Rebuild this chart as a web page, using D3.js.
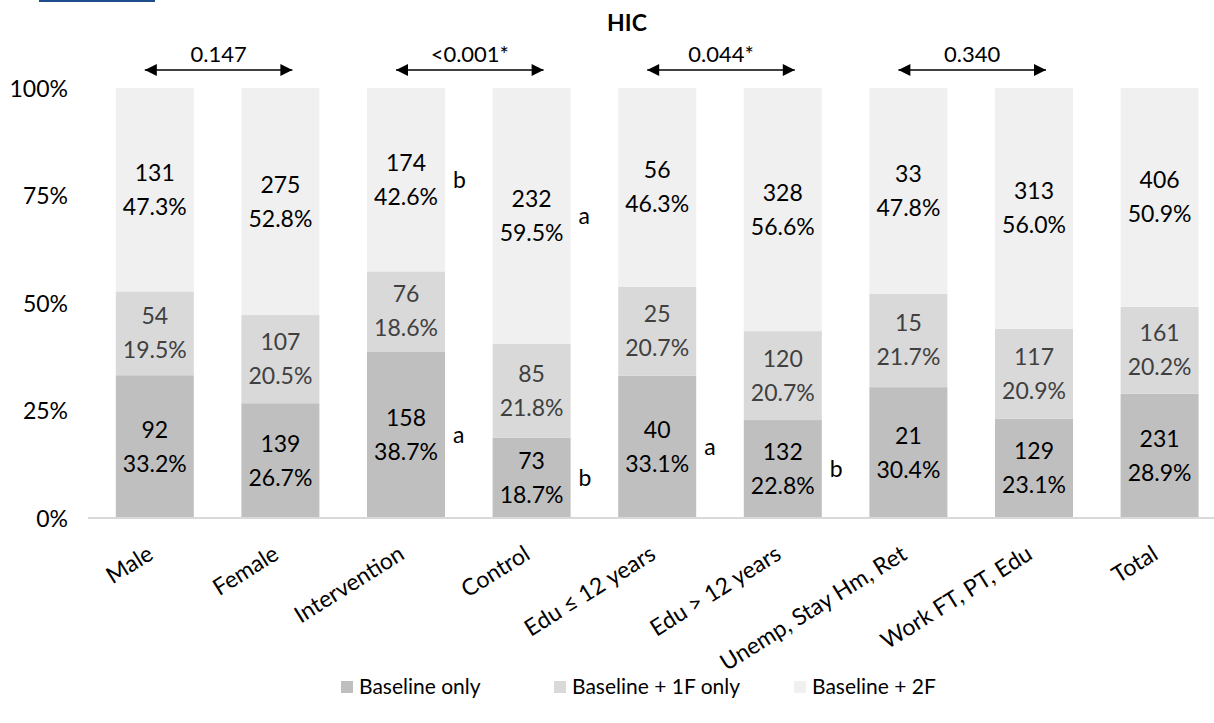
<!DOCTYPE html>
<html>
<head>
<meta charset="utf-8">
<script src="https://cdn.jsdelivr.net/npm/d3@7"></script>
<style>
  body { margin: 0; background: #fff; }
  svg { font-family: Lato, "Open Sans", sans-serif; }
</style>
</head>
<body>
<svg id="drawing_region"></svg>
<script>
// HIC follow-up by group
const categories = ["Male", "Female", "Intervention", "Control", "Edu \u2264 12 years",
                    "Edu > 12 years", "Unemp, Stay Hm, Ret", "Work FT, PT, Edu", "Total"];
const seriesNames = ["Baseline only", "Baseline + 1F only", "Baseline + 2F"];

const baselineN   = [92, 139, 158, 73, 40, 132, 21, 129, 231];
const baselinePct = [33.2, 26.7, 38.7, 18.7, 33.1, 22.8, 30.4, 23.1, 28.9];
const f1N         = [54, 107, 76, 85, 25, 120, 15, 117, 161];
const f1Pct       = [19.5, 20.5, 18.6, 21.8, 20.7, 20.7, 21.7, 20.9, 20.2];
const f2N         = [131, 275, 174, 232, 56, 328, 33, 313, 406];
const f2Pct       = [47.3, 52.8, 42.6, 59.5, 46.3, 56.6, 47.8, 56.0, 50.9];

const yTicks = [0, 0.25, 0.5, 0.75, 1];

// p-values between pairs of bars
const pairs = [
  {a: "Male", b: "Female", p: "0.147"},
  {a: "Intervention", b: "Control", p: "<0.001*"},
  {a: "Edu \u2264 12 years", b: "Edu > 12 years", p: "0.044*"},
  {a: "Unemp, Stay Hm, Ret", b: "Work FT, PT, Edu", p: "0.340"}
];

// post-hoc letters (series index, category)
const letters = [
  {cat: "Intervention", s: 2, t: "b"},
  {cat: "Intervention", s: 0, t: "a"},
  {cat: "Control", s: 2, t: "a"},
  {cat: "Control", s: 0, t: "b"},
  {cat: "Edu \u2264 12 years", s: 0, t: "a"},
  {cat: "Edu > 12 years", s: 0, t: "b"}
];

const colors = ["#bfbfbf", "#d9d9d9", "#f0f0f0"];
const labelColors = ["#000", "#404040", "#000"];

const width = 1214, height = 723;
const svg = d3.select("#drawing_region").attr("width", width).attr("height", height);

// rows for the stack
const rows = categories.map((c, i) => ({
  cat: c,
  s0: baselinePct[i], s1: f1Pct[i], s2: f2Pct[i],
  n: [baselineN[i], f1N[i], f2N[i]],
  pct: [baselinePct[i], f1Pct[i], f2Pct[i]]
}));

const stack = d3.stack().keys(["s0", "s1", "s2"]).offset(d3.stackOffsetExpand);
const series = stack(rows);

const step = 125.6, left = 92;
const xscale = d3.scaleBand()
  .domain(categories)
  .range([left, left + step * categories.length])
  .paddingInner(0.379)
  .paddingOuter(0.1895);

const yscale = d3.scaleLinear().domain([0, 1]).range([518, 88]);

// blue rule at top left
svg.append("line")
  .attr("x1", 39).attr("x2", 155).attr("y1", 1).attr("y2", 1)
  .attr("stroke", "#1f4e8c").attr("stroke-width", 2);

// title
svg.append("text")
  .attr("x", 627).attr("y", 31)
  .attr("text-anchor", "middle")
  .attr("font-weight", "bold")
  .attr("font-size", 23)
  .text("HIC");

// y axis labels
const yaxis = d3.axisLeft(yscale).tickValues(yTicks).tickFormat(d3.format(".0%")).tickSize(0).tickPadding(0);
const yg = svg.append("g").attr("transform", "translate(68,0)").call(yaxis);
yg.select(".domain").remove();
yg.selectAll("text").attr("font-size", 23).attr("font-family", "Lato").attr("fill", "#000").attr("dy", "0.35em");

// bars
const layers = svg.append("g").selectAll("g")
  .data(series)
  .join("g")
  .attr("fill", (d, i) => colors[i]);

layers.selectAll("rect")
  .data(d => d)
  .join("rect")
  .attr("x", d => xscale(d.data.cat))
  .attr("y", d => yscale(d[1]))
  .attr("width", xscale.bandwidth())
  .attr("height", d => yscale(d[0]) - yscale(d[1]));

// baseline axis
const xaxis = d3.axisBottom(xscale).tickSize(0).tickPadding(0);
const xg = svg.append("g").attr("transform", "translate(0,518)").call(xaxis);
xg.select(".domain").attr("stroke", "#d9d9d9").attr("stroke-width", 2)
  .attr("d", `M88,0H${width}`);
xg.selectAll(".tick text")
  .attr("font-size", 23).attr("font-family", "Lato").attr("fill", "#000")
  .attr("text-anchor", "end")
  .attr("dy", 0).attr("y", 0)
  .attr("transform", "translate(0,40) rotate(-32)");

// data labels
series.forEach((s, si) => {
  const g = svg.append("g");
  s.forEach(d => {
    const cx = xscale(d.data.cat) + xscale.bandwidth() / 2;
    const cy = (yscale(d[0]) + yscale(d[1])) / 2;
    const t = g.append("text")
      .attr("text-anchor", "middle")
      .attr("font-size", 23)
      .attr("fill", labelColors[si]);
    t.append("tspan").attr("x", cx).attr("y", cy - 17).attr("dy", "0.35em").text(d.data.n[si]);
    t.append("tspan").attr("x", cx).attr("y", cy + 17).attr("dy", "0.35em").text(d.data.pct[si].toFixed(1) + "%");
  });
});

// post-hoc letters
letters.forEach(l => {
  const d = series[l.s].find(v => v.data.cat === l.cat);
  svg.append("text")
    .attr("x", xscale(l.cat) + xscale.bandwidth() + 8)
    .attr("y", (yscale(d[0]) + yscale(d[1])) / 2)
    .attr("dy", "0.35em")
    .attr("font-size", 23)
    .text(l.t);
});

// p-value arrows
const defs = svg.append("defs");
defs.append("marker").attr("id", "ah").attr("viewBox", "0 0 10 10")
  .attr("refX", 10).attr("refY", 5).attr("markerWidth", 14).attr("markerHeight", 12)
  .attr("markerUnits", "userSpaceOnUse").attr("orient", "auto-start-reverse")
  .append("path").attr("d", "M0,0L10,5L0,10Z").attr("fill", "#000");

pairs.forEach(p => {
  const xa = xscale(p.a) + xscale.bandwidth() / 2 - 10;
  const xb = xscale(p.b) + xscale.bandwidth() / 2 + 12;
  svg.append("line")
    .attr("x1", xa).attr("x2", xb).attr("y1", 70).attr("y2", 70)
    .attr("stroke", "#000").attr("stroke-width", 1.5)
    .attr("marker-start", "url(#ah)").attr("marker-end", "url(#ah)");
  svg.append("text")
    .attr("x", (xa + xb) / 2).attr("y", 62)
    .attr("text-anchor", "middle")
    .attr("font-size", 22)
    .text(p.p);
});

// legend
const legendX = [341, 554, 794];
const legend = svg.append("g").selectAll("g")
  .data(seriesNames)
  .join("g")
  .attr("transform", (d, i) => `translate(${legendX[i]},681)`);
legend.append("rect").attr("width", 12).attr("height", 12).attr("fill", (d, i) => colors[i]);
legend.append("text").attr("x", 18).attr("y", 6).attr("dy", "0.35em")
  .attr("font-size", 21).text(d => d);
</script>
</body>
</html>
